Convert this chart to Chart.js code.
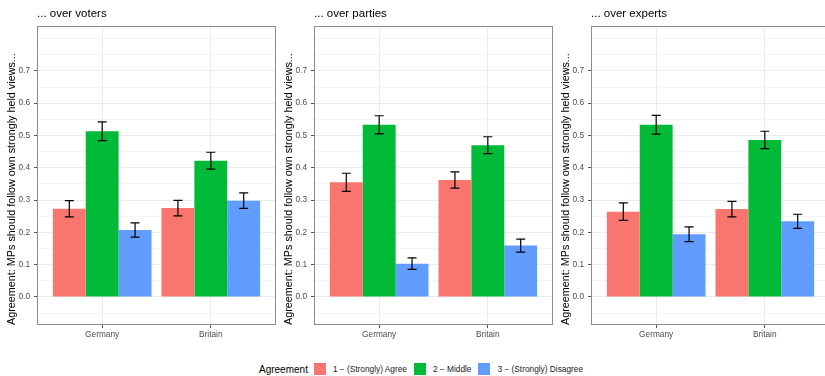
<!DOCTYPE html>
<html>
<head>
<meta charset="utf-8">
<script src="https://cdn.jsdelivr.net/npm/chart.js@4.4.1/dist/chart.umd.min.js"></script>
<style>
body { margin: 0; width: 825px; height: 376px; overflow: hidden; background: #fff; position: relative; font-family: "Liberation Sans", Arial, sans-serif; }
canvas { position: absolute; top: 0; }
#legend { position: absolute; left: 259px; top: 363px; height: 12px; display: flex; align-items: center; white-space: nowrap; }
#legend .ttl { font-size: 10px; color: #000; margin-right: 6px; }
#legend .key { width: 12px; height: 12px; margin-right: 7px; }
#legend .lab { font-size: 8.3px; color: #1a1a1a; margin-right: 7px; }
</style>
</head>
<body>
<canvas id="c1" width="280" height="346" style="left:0px"></canvas>
<canvas id="c2" width="280" height="346" style="left:277px"></canvas>
<canvas id="c3" width="280" height="346" style="left:554px"></canvas>
<div id="legend"></div>
<script>
// categories / series
const categories = ['Germany', 'Britain'];
const levels = ['1 \u2212 (Strongly) Agree', '2 \u2212 Middle', '3 \u2212 (Strongly) Disagree'];
const colors = ['#F8766D', '#00BA38', '#619CFF'];
const panelTitles = ['... over voters', '... over parties', '... over experts'];
const yTitle = 'Agreement: MPs should follow own strongly held views...';
const legendTitle = 'Agreement';

// y ticks: labelled ones, and the unlabelled minor grid
const yLabelTicks = [0, 0.1, 0.2, 0.3, 0.4, 0.5, 0.6, 0.7];
const yMinorTicks = [-0.05, 0.05, 0.15, 0.25, 0.35, 0.45, 0.55, 0.65, 0.75, 0.8];

// means (Germany, Britain) and half width of the error bars
const votersAgree = [0.273, 0.275];
const votersMiddle = [0.513, 0.422];
const votersDisagree = [0.207, 0.298];
const votersAgreeCI = [0.025, 0.024];
const votersMiddleCI = [0.029, 0.026];
const votersDisagreeCI = [0.022, 0.024];

const partiesAgree = [0.355, 0.362];
const partiesMiddle = [0.533, 0.470];
const partiesDisagree = [0.103, 0.159];
const partiesAgreeCI = [0.028, 0.025];
const partiesMiddleCI = [0.028, 0.026];
const partiesDisagreeCI = [0.018, 0.020];

const expertsAgree = [0.264, 0.272];
const expertsMiddle = [0.533, 0.486];
const expertsDisagree = [0.194, 0.234];
const expertsAgreeCI = [0.027, 0.024];
const expertsMiddleCI = [0.029, 0.027];
const expertsDisagreeCI = [0.023, 0.022];

const FONT = '"Liberation Sans", Arial, sans-serif';

function isLabelled(v) {
    return yLabelTicks.some(t => Math.abs(t - v) < 1e-9);
}

// draws the error bars on top of the bars
const errorBars = {
    id: 'errorBars',
    afterDatasetsDraw(chart) {
        const ctx = chart.ctx;
        const y = chart.scales.y;
        ctx.save();
        ctx.strokeStyle = '#000';
        ctx.lineWidth = 1.2;
        chart.data.datasets.forEach((ds, i) => {
            chart.getDatasetMeta(i).data.forEach((bar, j) => {
                const hi = y.getPixelForValue(ds.data[j].y + ds.ci[j]);
                const lo = y.getPixelForValue(ds.data[j].y - ds.ci[j]);
                ctx.beginPath();
                ctx.moveTo(bar.x, hi); ctx.lineTo(bar.x, lo);
                ctx.moveTo(bar.x - 4.5, hi); ctx.lineTo(bar.x + 4.5, hi);
                ctx.moveTo(bar.x - 4.5, lo); ctx.lineTo(bar.x + 4.5, lo);
                ctx.stroke();
            });
        });
        ctx.restore();
    }
};

// panel border
const frame = {
    id: 'frame',
    afterDraw(chart) {
        const a = chart.chartArea;
        const ctx = chart.ctx;
        ctx.save();
        ctx.strokeStyle = '#8c8c8c';
        ctx.lineWidth = 1;
        ctx.strokeRect(Math.round(a.left) + 0.5, Math.round(a.top) + 0.5,
            Math.round(a.right - a.left) - 1, Math.round(a.bottom - a.top) - 1);
        ctx.restore();
    }
};

function makePanel(id, title, means, cis) {
    const datasets = levels.map((lvl, k) => ({
        label: lvl,
        data: categories.map((c, i) => ({x: i + 1, y: means[k][i]})),
        ci: cis[k],
        backgroundColor: colors[k],
        borderWidth: 0
    }));

    return new Chart(document.getElementById(id), {
        type: 'bar',
        data: {datasets: datasets},
        plugins: [errorBars, frame],
        options: {
            responsive: false,
            animation: false,
            devicePixelRatio: 1,
            categoryPercentage: 0.908,
            barPercentage: 1,
            layout: {padding: {left: 0, right: 4, top: 0, bottom: 0}},
            plugins: {
                legend: {display: false},
                tooltip: {enabled: false},
                title: {
                    display: true,
                    text: title,
                    align: 'start',
                    fullSize: false,
                    color: '#000',
                    font: {family: FONT, size: 11.5, weight: 'normal'},
                    padding: {top: 7, bottom: 5.2}
                }
            },
            scales: {
                x: {
                    type: 'linear',
                    min: 0.4,
                    max: 2.6,
                    offset: false,
                    afterBuildTicks: (scale) => {
                        scale.ticks = categories.map((c, i) => ({value: i + 1}));
                    },
                    afterFit: (scale) => { scale.height = 21; },
                    ticks: {
                        callback: (v) => categories[v - 1],
                        color: '#4d4d4d',
                        font: {family: FONT, size: 8.3},
                        padding: 2,
                        maxRotation: 0
                    },
                    grid: {
                        offset: false,
                        color: '#ebebeb',
                        tickColor: '#555',
                        tickLength: 3
                    },
                    border: {display: false}
                },
                y: {
                    min: -0.087,
                    max: 0.839,
                    afterBuildTicks: (scale) => {
                        scale.ticks = yLabelTicks.concat(yMinorTicks)
                            .sort((a, b) => a - b)
                            .map(v => ({value: v}));
                    },
                    afterFit: (scale) => { scale.width = 37; },
                    ticks: {
                        callback: (v) => isLabelled(v) ? v.toFixed(1) : '',
                        color: '#4d4d4d',
                        font: {family: FONT, size: 8.3},
                        padding: 4,
                        autoSkip: false
                    },
                    grid: {
                        color: (c) => isLabelled(c.tick.value) ? '#ebebeb' : '#f4f4f4',
                        tickColor: (c) => isLabelled(c.tick.value) ? '#555' : 'rgba(0,0,0,0)',
                        tickLength: 3
                    },
                    border: {display: false},
                    title: {
                        display: true,
                        text: yTitle,
                        align: 'start',
                        color: '#000',
                        font: {family: FONT, size: 10.8},
                        padding: {top: 5.5, bottom: 0}
                    }
                }
            }
        }
    });
}

makePanel('c1', panelTitles[0],
    [votersAgree, votersMiddle, votersDisagree],
    [votersAgreeCI, votersMiddleCI, votersDisagreeCI]);
makePanel('c2', panelTitles[1],
    [partiesAgree, partiesMiddle, partiesDisagree],
    [partiesAgreeCI, partiesMiddleCI, partiesDisagreeCI]);
makePanel('c3', panelTitles[2],
    [expertsAgree, expertsMiddle, expertsDisagree],
    [expertsAgreeCI, expertsMiddleCI, expertsDisagreeCI]);

// shared legend under the panels
const legend = document.getElementById('legend');
let html = '<span class="ttl">' + legendTitle + '</span>';
levels.forEach((lvl, k) => {
    html += '<span class="key" style="background:' + colors[k] + '"></span>';
    html += '<span class="lab">' + lvl + '</span>';
});
legend.innerHTML = html;
</script>
</body>
</html>
